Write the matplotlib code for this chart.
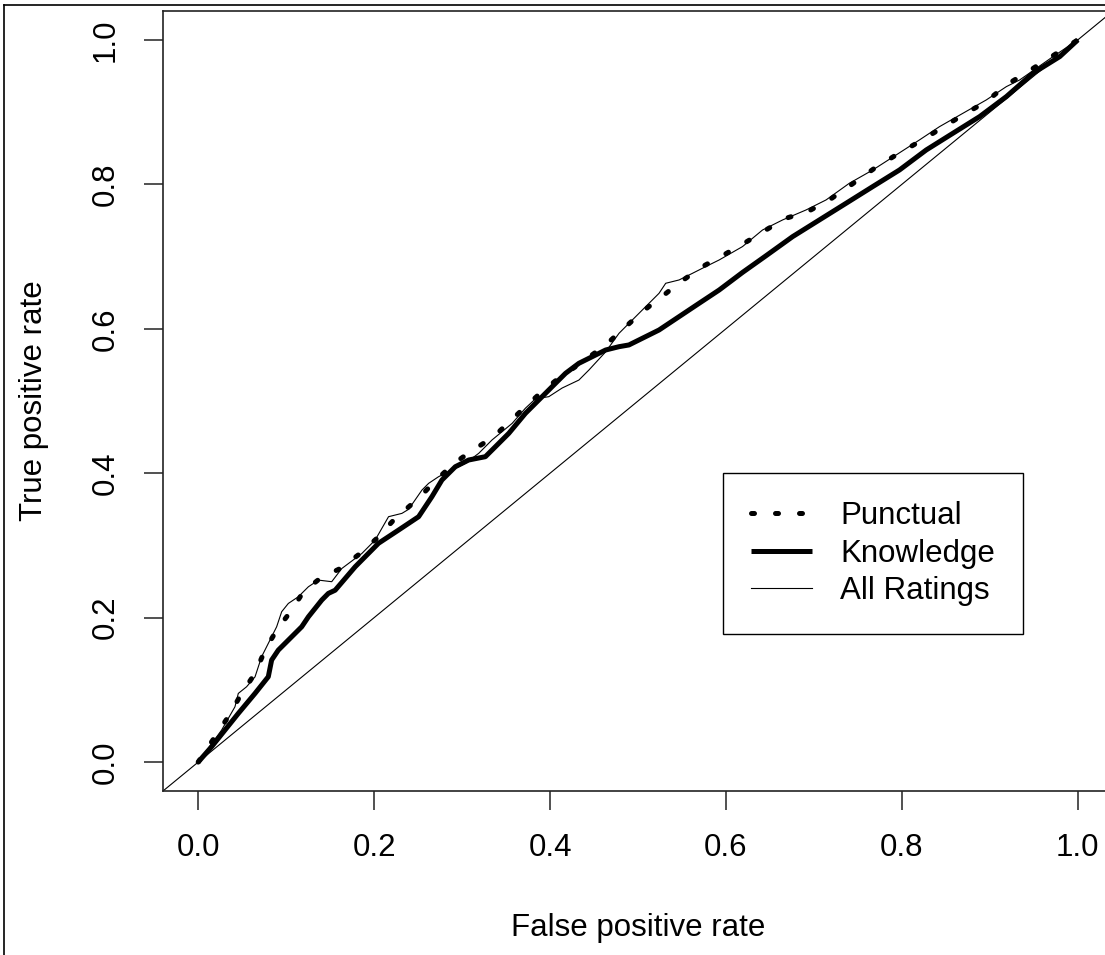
import matplotlib
matplotlib.use("Agg")
import matplotlib.pyplot as plt
from matplotlib.lines import Line2D

plt.rcParams['font.family'] = ['Liberation Sans', 'DejaVu Sans']

# ROC curves (false positive rate, true positive rate)
all_fpr = [0, 0.0266, 0.0418, 0.0456, 0.055, 0.0646, 0.0721, 0.0892, 0.0949, 0.1025,
           0.1139, 0.1253, 0.1367, 0.1518, 0.1632, 0.186, 0.2012, 0.2164, 0.2316, 0.2392,
           0.2544, 0.262, 0.2733, 0.2885, 0.3037, 0.3189, 0.334, 0.3569, 0.372, 0.3834,
           0.3986, 0.4138, 0.4328, 0.4442, 0.4632, 0.4784, 0.4897, 0.5049, 0.5239, 0.5315,
           0.5467, 0.5619, 0.577, 0.5923, 0.6188, 0.6416, 0.6644, 0.691, 0.7138, 0.7403,
           0.7669, 0.7935, 0.82, 0.8428, 0.8694, 0.896, 0.9188, 0.934, 0.9719, 1.0]
all_tpr = [0, 0.0443, 0.0766, 0.0951, 0.1043, 0.118, 0.1459, 0.1874, 0.2082, 0.2197,
           0.229, 0.2428, 0.252, 0.2498, 0.268, 0.2888, 0.3075, 0.3398, 0.3444, 0.350,
           0.3767, 0.386, 0.3952, 0.4044, 0.4137, 0.4275, 0.446, 0.469, 0.490, 0.503,
           0.506, 0.518, 0.529, 0.5429, 0.568, 0.5937, 0.6075, 0.626, 0.6491, 0.663,
           0.6676, 0.6768, 0.6861, 0.6953, 0.7138, 0.7368, 0.7507, 0.7645, 0.7784, 0.8015,
           0.8199, 0.8407, 0.8615, 0.8799, 0.8984, 0.9169, 0.9353, 0.9446, 0.9769, 1.0]

know_fpr = [0, 0.0152, 0.0304, 0.0456, 0.0646, 0.0797, 0.0835, 0.0911, 0.1177, 0.1253,
            0.1405, 0.148, 0.1557, 0.1785, 0.205, 0.2278, 0.2506, 0.2657, 0.2771, 0.2923,
            0.3075, 0.3265, 0.3379, 0.3531, 0.372, 0.391, 0.4062, 0.4176, 0.4328, 0.448,
            0.4632, 0.4784, 0.4897, 0.5011, 0.5239, 0.5467, 0.5695, 0.5923, 0.6188, 0.6454,
            0.6758, 0.7062, 0.7366, 0.7669, 0.7973, 0.8277, 0.858, 0.8884, 0.9188, 0.949,
            0.9795, 1.0]
know_tpr = [0, 0.0212, 0.0443, 0.0674, 0.0951, 0.1182, 0.1413, 0.1551, 0.1874, 0.2012,
            0.2244, 0.2336, 0.238, 0.2705, 0.303, 0.3213, 0.3398, 0.3675, 0.3906, 0.409,
            0.4183, 0.4229, 0.4367, 0.4552, 0.4829, 0.506, 0.5245, 0.5383, 0.5522, 0.5614,
            0.5706, 0.5752, 0.5776, 0.5845, 0.5983, 0.6168, 0.6353, 0.6537, 0.678, 0.701,
            0.7276, 0.7507, 0.7738, 0.7969, 0.8199, 0.8476, 0.8707, 0.8938, 0.9215, 0.9538,
            0.9769, 1.0]

punct_fpr = [0, 0.0342, 0.0494, 0.0646, 0.076, 0.0892, 0.1063, 0.1196, 0.1386, 0.1614,
             0.1841, 0.2031, 0.224, 0.2506, 0.27, 0.2923, 0.31, 0.336, 0.372, 0.39,
             0.412, 0.4347, 0.4632, 0.484, 0.5049, 0.5296, 0.545, 0.5733, 0.5942, 0.6207,
             0.6454, 0.6682, 0.6929, 0.7175, 0.7422, 0.7688, 0.7935, 0.82, 0.8447, 0.8694,
             0.896, 0.9188, 0.9434, 1.0]
punct_tpr = [0, 0.0628, 0.0951, 0.1228, 0.1551, 0.1828, 0.2105, 0.2359, 0.2544, 0.268,
             0.2888, 0.3098, 0.3375, 0.3652, 0.39, 0.415, 0.43, 0.4506, 0.492, 0.512,
             0.5337, 0.5522, 0.5776, 0.6006, 0.6237, 0.6468, 0.662, 0.6861, 0.700, 0.7184,
             0.7368, 0.753, 0.7622, 0.7784, 0.7992, 0.8222, 0.8407, 0.8592, 0.8776, 0.8961,
             0.9146, 0.9376, 0.9561, 1.0]

ticks = [0.0, 0.2, 0.4, 0.6, 0.8, 1.0]
tick_labels = ["0.0", "0.2", "0.4", "0.6", "0.8", "1.0"]

W, H = 1105, 955
fig = plt.figure(figsize=(W / 100, H / 100), dpi=100)
# plot region in pixels: x 163..1113 (runs past the right edge), y 11..791
ax = fig.add_axes([163 / W, 1 - 791 / H, 950 / W, 780 / H])
ax.set_xlim(-0.04, 1.04)
ax.set_ylim(-0.04, 1.04)

ax.plot(punct_fpr, punct_tpr, color="black", lw=3.6, dashes=(0.6, 4.2),
        dash_capstyle="round", label="Punctual")
ax.plot(know_fpr, know_tpr, color="black", lw=3.6, solid_capstyle="butt", label="Knowledge")
ax.plot(all_fpr, all_tpr, color="black", lw=0.8, label="All Ratings")
ax.axline((0, 0), (1, 1), color="black", lw=0.8)

fs = 22.5
ax.set_xticks(ticks, tick_labels)
ax.set_yticks(ticks, tick_labels)
ax.tick_params(direction="out", length=13.5, width=1.1, pad=17, labelsize=fs, color="#222")
ax.tick_params(axis="y", labelrotation=90)
for lab in ax.get_yticklabels():
    lab.set_va("center")
for s in ax.spines.values():
    s.set_linewidth(1.2)
    s.set_color("#222")

ax.set_xlabel("False positive rate", fontsize=fs)
ax.set_ylabel("True positive rate", fontsize=fs)
ax.xaxis.set_label_coords(0.5, (791 - 928) / 780)
ax.xaxis.label.set_va("center")
ax.yaxis.set_label_coords((34 - 163) / 950, 0.5)
ax.yaxis.label.set_va("center")

leg = ax.legend(loc="upper left", bbox_to_anchor=(723 / W, 1 - 473 / H),
                bbox_transform=fig.transFigure, fontsize=fs, fancybox=False,
                edgecolor="black", framealpha=1, borderaxespad=0, borderpad=0.9,
                handlelength=1.95, handletextpad=0.9, labelspacing=0.24)
leg.get_frame().set_linewidth(1.0)

# outer page frame (cropped figure border)
fig.add_artist(Line2D([3.5 / W, 3.5 / W], [0, 1 - 5 / H], transform=fig.transFigure,
                      color="black", lw=1.2))
fig.add_artist(Line2D([3.5 / W, 1], [1 - 5 / H, 1 - 5 / H], transform=fig.transFigure,
                      color="black", lw=1.2))

fig.savefig("out.png", dpi=100)
